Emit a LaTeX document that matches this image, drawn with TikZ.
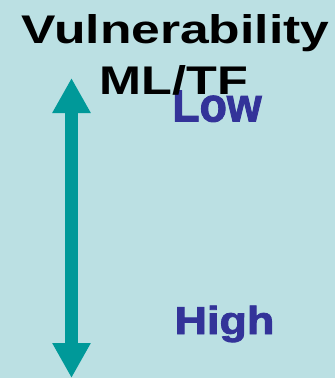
\documentclass[tikz,border=0pt]{standalone}
\usepackage{fontspec}
\setmainfont{Liberation Sans}
% heavier face for the level labels
\newfontfamily\levelfont{Liberation Sans Bold}[FakeBold=2]
\usetikzlibrary{arrows.meta}
\definecolor{paper}{RGB}{187,224,227}
\definecolor{tealarrow}{RGB}{0,153,153}
\definecolor{levelblue}{RGB}{51,51,153}
\tikzset{
  titletext/.style={anchor=base, inner sep=0pt, text=black, font=\bfseries\fontsize{40}{40}\selectfont},
  leveltext/.style={anchor=base, inner sep=0pt, text=levelblue},
  scalearrow/.style={draw=tealarrow, line width=13pt,
    {Triangle[width=36pt,length=35pt]}-{Triangle[width=36pt,length=35pt]}}
}
\begin{document}
\begin{tikzpicture}[x=1pt,y=-1pt]
  % page
  \fill[paper] (0,0) rectangle (335,378);
  \useasboundingbox (0,0) rectangle (335,378);

  % "Low" sits partly under the title panel, so only its lower part shows
  \begin{scope}
    \clip (0,90) rectangle (335,378);
    \node[leveltext, font=\levelfont\fontsize{48}{48}\selectfont] (low) at (217,121.5)
      {\scalebox{0.93}[1]{Low}};
  \end{scope}

  % title
  \node[titletext] (title1) at (175.5,43) {\scalebox{1.29}[1]{Vulnerability}};
  \node[titletext] (title2) at (174,94) {\scalebox{1.26}[1]{ML/TF}};

  % vertical scale arrow
  \coordinate (top) at (71.5,78);
  \coordinate (bottom) at (71.5,378);
  \draw[scalearrow] (top) -- (bottom);

  % lower end label
  \node[leveltext, font=\levelfont\fontsize{39}{39}\selectfont] (high) at (224.5,334)
    {\scalebox{1.15}[1]{High}};
\end{tikzpicture}
\end{document}
